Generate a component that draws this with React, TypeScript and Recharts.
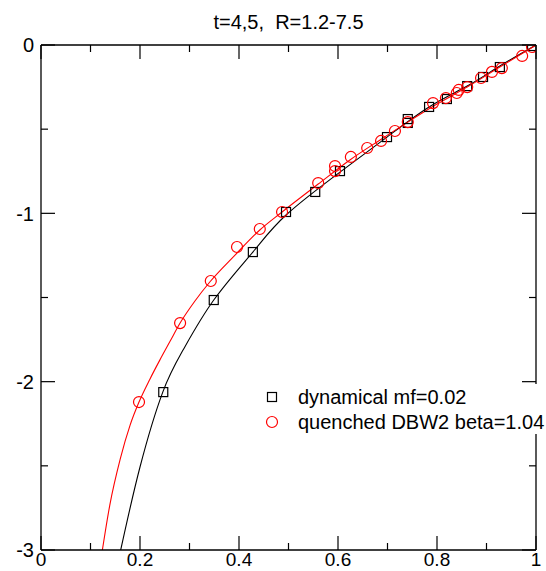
import React from "react";
import { ComposedChart, Line, Scatter, XAxis, YAxis, Legend } from "recharts";

// axis ticks (minor ticks have an empty label)
const xTicks = [0, 0.1, 0.2, 0.3, 0.4, 0.5, 0.6, 0.7, 0.8, 0.9, 1];
const xTickLabels = ["0", "", "0.2", "", "0.4", "", "0.6", "", "0.8", "", "1"];
const yTicks = [-3, -2.5, -2, -1.5, -1, -0.5, 0];
const yTickLabels = ["-3", "", "-2", "", "-1", "", "0"];

// dynamical mf=0.02 (black squares)
const dynX = [0.247, 0.349, 0.428, 0.495, 0.554, 0.604, 0.699, 0.741, 0.741, 0.784, 0.82, 0.861, 0.893, 0.927, 0.992];
const dynY = [-2.062, -1.515, -1.23, -0.992, -0.873, -0.749, -0.547, -0.44, -0.463, -0.368, -0.321, -0.244, -0.19, -0.131, -0.006];

// quenched DBW2 beta=1.04 (red circles)
const qX = [0.198, 0.281, 0.343, 0.396, 0.442, 0.487, 0.56, 0.594, 0.594, 0.626, 0.659, 0.687, 0.715, 0.741, 0.792, 0.818, 0.84, 0.844, 0.861, 0.889, 0.911, 0.931, 0.972, 0.992];
const qY = [-2.121, -1.652, -1.402, -1.2, -1.093, -0.992, -0.82, -0.719, -0.749, -0.665, -0.612, -0.57, -0.511, -0.458, -0.345, -0.315, -0.285, -0.267, -0.25, -0.196, -0.16, -0.137, -0.065, -0.012];

// fitted curves
const dynFitX = [0.161, 0.2, 0.246, 0.287, 0.349, 0.428, 0.495, 0.604, 0.699, 0.784, 0.861, 0.927, 1.0];
const dynFitY = [-3.0, -2.507, -2.062, -1.812, -1.515, -1.23, -1.01, -0.755, -0.547, -0.368, -0.244, -0.125, 0];
const qFitX = [0.124, 0.139, 0.16, 0.18, 0.198, 0.22, 0.24, 0.261, 0.281, 0.311, 0.341, 0.392, 0.442, 0.487, 0.56, 0.624, 0.685, 0.741, 0.8, 0.861, 0.927, 1.0];
const qFitY = [-3.0, -2.733, -2.46, -2.258, -2.121, -1.985, -1.872, -1.759, -1.652, -1.521, -1.408, -1.248, -1.099, -0.992, -0.826, -0.683, -0.564, -0.458, -0.351, -0.25, -0.131, 0];

const zip = (xs: number[], ys: number[]) => xs.map((x, i) => ({ x, y: ys[i] }));

const FONT = "'Liberation Sans', Arial, Helvetica, sans-serif";
const MAJOR = 14;
const MINOR = 7;

function BottomTick({ x, y, payload }: any) {
    const label = xTickLabels[xTicks.indexOf(payload.value)];
    return (
        <g>
            <line x1={x} y1={y} x2={x} y2={y - (label ? MAJOR : MINOR)} stroke="#000" strokeWidth={1.2} />
            {label && (
                <text x={x} y={y + 16} textAnchor="middle" fontSize={19} fontFamily={FONT} fill="#000">
                    {label}
                </text>
            )}
        </g>
    );
}

function TopTick({ x, y, payload }: any) {
    const label = xTickLabels[xTicks.indexOf(payload.value)];
    return <line x1={x} y1={y} x2={x} y2={y + (label ? MAJOR : MINOR)} stroke="#000" strokeWidth={1.2} />;
}

function LeftTick({ x, y, payload }: any) {
    const label = yTickLabels[yTicks.indexOf(payload.value)];
    return (
        <g>
            <line x1={x} y1={y} x2={x + (label ? MAJOR : MINOR)} y2={y} stroke="#000" strokeWidth={1.2} />
            {label && (
                <text x={x - 7} y={y} dy="0.36em" textAnchor="end" fontSize={20} fontFamily={FONT} fill="#000">
                    {label}
                </text>
            )}
        </g>
    );
}

function RightTick({ x, y, payload }: any) {
    const label = yTickLabels[yTicks.indexOf(payload.value)];
    return <line x1={x} y1={y} x2={x - (label ? MAJOR : MINOR)} y2={y} stroke="#000" strokeWidth={1.2} />;
}

const Square = ({ cx, cy }: any) => (
    <rect x={cx - 4.5} y={cy - 4.5} width={9} height={9} fill="none" stroke="#000" strokeWidth={1.2} />
);
const Ring = ({ cx, cy }: any) => <circle cx={cx} cy={cy} r={5.5} fill="none" stroke="#ff0000" strokeWidth={1.2} />;

function LegendBox() {
    return (
        <div style={{ fontFamily: FONT, fontSize: 20, color: "#000", background: "#fff", width: 284, height: 50, position: "relative" }}>
            <svg width={24} height={50} style={{ position: "absolute", left: 0, top: 0 }}>
                <rect x={5.5} y={8.5} width={9} height={9} fill="none" stroke="#000" strokeWidth={1.2} />
                <circle cx={10} cy={38} r={5.5} fill="none" stroke="#ff0000" strokeWidth={1.2} />
            </svg>
            <div style={{ position: "absolute", left: 36, top: 2, lineHeight: "22px", whiteSpace: "nowrap" }}>dynamical mf=0.02</div>
            <div style={{ position: "absolute", left: 36, top: 27, lineHeight: "22px", whiteSpace: "nowrap" }}>quenched DBW2 beta=1.04</div>
        </div>
    );
}

export default function App() {
    return (
        <div style={{ position: "absolute", left: 0, top: 0, width: 546, height: 571, background: "#fff", overflow: "hidden" }}>
            <div
                style={{
                    position: "absolute",
                    left: 0,
                    width: 577,
                    top: 12,
                    textAlign: "center",
                    fontFamily: FONT,
                    fontSize: 20,
                    lineHeight: "20px",
                    whiteSpace: "pre",
                }}
            >
                {"t=4,5,  R=1.2-7.5"}
            </div>
            <ComposedChart width={546} height={571} margin={{ top: 0, right: 0, bottom: 0, left: 0 }}>
                <XAxis
                    xAxisId={0}
                    dataKey="x"
                    type="number"
                    domain={[0, 1]}
                    ticks={xTicks}
                    interval={0}
                    height={21}
                    tickSize={0}
                    tickMargin={0}
                    tickLine={false}
                    axisLine={{ stroke: "#000", strokeWidth: 1.3 }}
                    tick={<BottomTick />}
                    allowDataOverflow
                />
                <XAxis
                    xAxisId="top"
                    orientation="top"
                    dataKey="x"
                    type="number"
                    domain={[0, 1]}
                    ticks={xTicks}
                    interval={0}
                    height={45}
                    tickSize={0}
                    tickMargin={0}
                    tickLine={false}
                    axisLine={{ stroke: "#000", strokeWidth: 1.3 }}
                    tick={<TopTick />}
                    allowDataOverflow
                />
                <YAxis
                    yAxisId={0}
                    type="number"
                    domain={[-3, 0]}
                    ticks={yTicks}
                    interval={0}
                    width={41}
                    tickSize={0}
                    tickMargin={0}
                    tickLine={false}
                    axisLine={{ stroke: "#000", strokeWidth: 1.3 }}
                    tick={<LeftTick />}
                    allowDataOverflow
                />
                <YAxis
                    yAxisId="right"
                    orientation="right"
                    type="number"
                    domain={[-3, 0]}
                    ticks={yTicks}
                    interval={0}
                    width={10}
                    tickSize={0}
                    tickMargin={0}
                    tickLine={false}
                    axisLine={{ stroke: "#000", strokeWidth: 1.3 }}
                    tick={<RightTick />}
                    allowDataOverflow
                />
                <Line
                    data={zip(dynFitX, dynFitY)}
                    dataKey="y"
                    type="natural"
                    stroke="#000"
                    strokeWidth={1.1}
                    dot={false}
                    activeDot={false}
                    isAnimationActive={false}
                    legendType="none"
                />
                <Line
                    data={zip(qFitX, qFitY)}
                    dataKey="y"
                    type="monotone"
                    stroke="#ff0000"
                    strokeWidth={1.1}
                    dot={false}
                    activeDot={false}
                    isAnimationActive={false}
                    legendType="none"
                />
                <Scatter data={zip(dynX, dynY)} dataKey="y" shape={<Square />} isAnimationActive={false} />
                <Scatter data={zip(qX, qY)} dataKey="y" shape={<Ring />} isAnimationActive={false} />
                <Legend
                    verticalAlign="middle"
                    align="center"
                    layout="horizontal"
                    content={<LegendBox />}
                    wrapperStyle={{ left: 262, top: 384, width: 284, height: 50 }}
                />
            </ComposedChart>
        </div>
    );
}
